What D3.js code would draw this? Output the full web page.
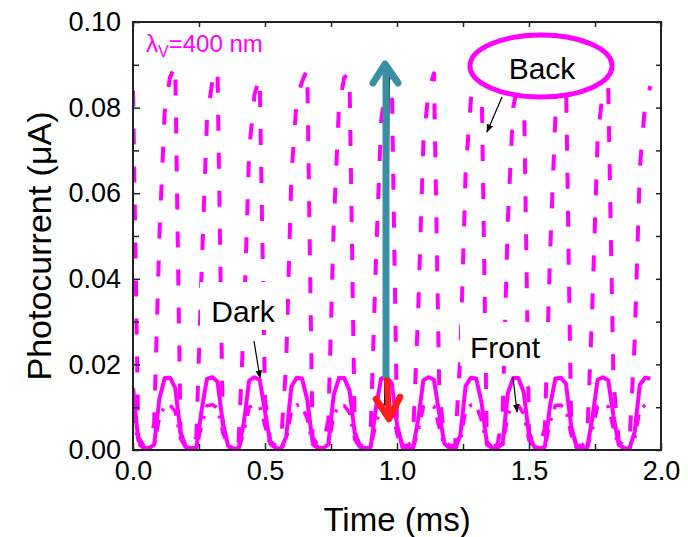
<!DOCTYPE html>
<html><head><meta charset="utf-8">
<script src="https://cdn.jsdelivr.net/npm/d3@7"></script>
<style>
html,body{margin:0;padding:0;background:#fff;}
svg text{font-family:"Liberation Sans",Arial,sans-serif;}
</style></head>
<body>
<svg id="chart" width="688" height="537"></svg>
<script>
// Time samples (ms)
const time = [0.00,0.02,0.04,0.06,0.08,0.10,0.12,0.14,0.16,0.18,0.20,0.22,0.24,0.26,0.28,0.30,0.32,0.34,0.36,0.38,
0.40,0.42,0.44,0.46,0.48,0.50,0.52,0.54,0.56,0.58,0.60,0.62,0.64,0.66,0.68,0.70,0.72,0.74,0.76,0.78,
0.80,0.82,0.84,0.86,0.88,0.90,0.92,0.94,0.96,0.98,1.00,1.02,1.04,1.06,1.08,1.10,1.12,1.14,1.16,1.18,
1.20,1.22,1.24,1.26,1.28,1.30,1.32,1.34,1.36,1.38,1.40,1.42,1.44,1.46,1.48,1.50,1.52,1.54,1.56,1.58,
1.60,1.62,1.64,1.66,1.68,1.70,1.72,1.74,1.76,1.78,1.80,1.82,1.84,1.86,1.88,1.90,1.92,1.94,1.96];

// Photocurrent (uA)
const backSeries = [0.084,0.003,0.001,0.001,0.006,0.050,0.079,0.087,0.090,0.004,0.001,0.001,0.003,0.042,0.077,0.086,0.089,0.006,0.001,0.001,
0.002,0.030,0.070,0.083,0.087,0.012,0.002,0.001,0.001,0.020,0.064,0.082,0.086,0.089,0.003,0.001,0.001,0.007,0.052,0.080,
0.087,0.088,0.004,0.001,0.001,0.004,0.044,0.077,0.086,0.088,0.006,0.001,0.001,0.002,0.032,0.072,0.084,0.088,0.014,0.002,
0.001,0.001,0.022,0.065,0.082,0.087,0.088,0.003,0.001,0.001,0.008,0.054,0.080,0.086,0.087,0.004,0.001,0.001,0.005,0.046,
0.078,0.085,0.087,0.005,0.001,0.001,0.002,0.034,0.073,0.084,0.085,0.016,0.002,0.001,0.001,0.025,0.066,0.081,0.085];

const darkSeries = [0.0145,0.0023,0.0006,0.0004,0.0012,0.0120,0.0168,0.0169,0.0145,0.0042,0.0007,0.0004,0.0005,0.0093,0.0166,0.0170,0.0160,0.0065,0.0010,0.0004,
0.0003,0.0065,0.0162,0.0170,0.0164,0.0090,0.0015,0.0005,0.0003,0.0030,0.0148,0.0169,0.0167,0.0118,0.0020,0.0006,0.0004,0.0013,0.0128,0.0168,
0.0168,0.0140,0.0040,0.0007,0.0004,0.0006,0.0098,0.0167,0.0170,0.0157,0.0060,0.0009,0.0004,0.0003,0.0070,0.0163,0.0170,0.0164,0.0085,0.0014,
0.0005,0.0003,0.0035,0.0150,0.0169,0.0167,0.0112,0.0019,0.0006,0.0004,0.0015,0.0133,0.0168,0.0168,0.0135,0.0035,0.0007,0.0004,0.0007,0.0105,
0.0167,0.0169,0.0155,0.0055,0.0008,0.0004,0.0004,0.0075,0.0164,0.0170,0.0163,0.0080,0.0012,0.0005,0.0003,0.0042,0.0153,0.0169,0.0167];

const frontSeries = [0.0090,0.0015,0.0004,0.0003,0.0008,0.0075,0.0104,0.0105,0.0090,0.0027,0.0005,0.0003,0.0004,0.0058,0.0103,0.0106,0.0099,0.0041,0.0007,0.0003,
0.0002,0.0041,0.0100,0.0105,0.0102,0.0056,0.0010,0.0004,0.0002,0.0019,0.0092,0.0105,0.0104,0.0073,0.0013,0.0004,0.0003,0.0008,0.0080,0.0104,
0.0104,0.0087,0.0025,0.0005,0.0003,0.0004,0.0061,0.0104,0.0106,0.0097,0.0037,0.0006,0.0003,0.0002,0.0044,0.0101,0.0105,0.0102,0.0053,0.0009,
0.0004,0.0002,0.0022,0.0093,0.0105,0.0104,0.0070,0.0012,0.0004,0.0003,0.0009,0.0083,0.0104,0.0104,0.0084,0.0022,0.0005,0.0003,0.0005,0.0065,
0.0104,0.0105,0.0096,0.0034,0.0005,0.0003,0.0003,0.0047,0.0102,0.0105,0.0101,0.0050,0.0008,0.0004,0.0002,0.0026,0.0095,0.0105,0.0104];

const xMajorTicks = [0, 0.5, 1.0, 1.5, 2.0];
const xMinorTicks = [0.25, 0.75, 1.25, 1.75];
const yMajorTicks = [0, 0.02, 0.04, 0.06, 0.08, 0.10];
const yMinorTicks = [0.01, 0.03, 0.05, 0.07, 0.09];
const xLabel = "Time (ms)";
const yLabel = "Photocurrent (\u03bcA)";

const svg = d3.select("#chart");
const L = 133, R = 661, T = 22, B = 450;
const x = d3.scaleLinear().domain([0, 2]).range([L, R]);
const y = d3.scaleLinear().domain([0, 0.1]).range([B, T]);
const MAG = "#ff00ff";

const clipId = "plotclip";
svg.append("clipPath").attr("id", clipId).append("rect")
  .attr("x", L).attr("y", T - 2).attr("width", R - L).attr("height", B - T + 2);

const plot = svg.append("g").attr("clip-path", `url(#${clipId})`);
function drawLine(vals, style) {
  const data = time.map((t, i) => [t, vals[i]]);
  const line = d3.line().x(d => x(d[0])).y(d => y(d[1]));
  const p = plot.append("path").datum(data).attr("d", line)
    .attr("fill", "none").attr("stroke", MAG)
    .attr("stroke-width", style.w).attr("stroke-linejoin", "round");
  if (style.dash) p.attr("stroke-dasharray", style.dash);
  return p;
}
drawLine(backSeries, {w: 4, dash: "16,22"});
drawLine(frontSeries, {w: 3.5, dash: "12,9,3,9"});
drawLine(darkSeries, {w: 4});

// Axes
const axisG = svg.append("g");
function styleAxis(g) {
  g.select(".domain").remove();
  g.selectAll(".tick line").attr("stroke", "#222").attr("stroke-width", 1.5);
  g.selectAll(".tick text").attr("fill", "#000").attr("font-family", "Liberation Sans, Arial, sans-serif");
}
axisG.append("g").attr("transform", `translate(0,${B})`)
  .call(d3.axisBottom(x).tickValues(xMajorTicks).tickSize(-7).tickSizeOuter(0).tickPadding(11).tickFormat(d3.format(".1f")))
  .call(styleAxis);
axisG.append("g").attr("transform", `translate(0,${B})`)
  .call(d3.axisBottom(x).tickValues(xMinorTicks).tickSize(-6).tickSizeOuter(0).tickFormat(""))
  .call(styleAxis);
axisG.append("g").attr("transform", `translate(0,${T})`)
  .call(d3.axisTop(x).tickValues(xMajorTicks.concat(xMinorTicks)).tickSize(-5).tickSizeOuter(0).tickFormat(""))
  .call(styleAxis);
axisG.append("g").attr("transform", `translate(${L},0)`)
  .call(d3.axisLeft(y).tickValues(yMajorTicks).tickSize(-7).tickSizeOuter(0).tickPadding(12).tickFormat(d3.format(".2f")))
  .call(styleAxis);
axisG.append("g").attr("transform", `translate(${L},0)`)
  .call(d3.axisLeft(y).tickValues(yMinorTicks).tickSize(-6).tickSizeOuter(0).tickFormat(""))
  .call(styleAxis);
axisG.append("g").attr("transform", `translate(${R},0)`)
  .call(d3.axisRight(y).tickValues(yMajorTicks.concat(yMinorTicks)).tickSize(-5).tickSizeOuter(0).tickFormat(""))
  .call(styleAxis);
axisG.selectAll(".tick text").attr("font-size", 27);

svg.append("rect").attr("x", L).attr("y", T).attr("width", R - L).attr("height", B - T)
  .attr("fill", "none").attr("stroke", "#222").attr("stroke-width", 2);

// Axis titles
svg.append("text").attr("x", (L + R) / 2).attr("y", 531).attr("text-anchor", "middle")
  .attr("font-size", 33).text(xLabel);
svg.append("text").attr("transform", `translate(51,${(105 + 387) / 2}) rotate(-90)`)
  .attr("text-anchor", "middle").attr("font-size", 34).text(yLabel);

// Wavelength label
const lam = svg.append("text").attr("x", 146).attr("y", 52).attr("fill", MAG).attr("font-size", 24);
lam.append("tspan").text("\u03bb");
lam.append("tspan").attr("font-size", 16).attr("dy", 5).text("V");
lam.append("tspan").attr("dy", -5).text("=400 nm");

// Annotation helper
const defs = svg.append("defs");
defs.append("marker").attr("id", "blkArrow").attr("viewBox", "0 0 10 10").attr("refX", 9).attr("refY", 5)
  .attr("markerWidth", 7).attr("markerHeight", 7).attr("orient", "auto")
  .append("path").attr("d", "M0,1 L10,5 L0,9 z").attr("fill", "#000");

function label(txt, cx, baseline, bw, bh) {
  svg.append("rect").attr("x", cx - bw / 2).attr("y", baseline - bh + 8).attr("width", bw).attr("height", bh).attr("fill", "#fff");
  svg.append("text").attr("x", cx).attr("y", baseline).attr("text-anchor", "middle").attr("font-size", 30).text(txt);
}
// Dark
label("Dark", 243, 322, 86, 48);
svg.append("line").attr("x1", 254).attr("y1", 341).attr("x2", 260).attr("y2", 378)
  .attr("stroke", "#000").attr("stroke-width", 1.2).attr("marker-end", "url(#blkArrow)");
// Front
label("Front", 505, 358, 90, 44);
svg.append("line").attr("x1", 513).attr("y1", 377).attr("x2", 517).attr("y2", 412)
  .attr("stroke", "#000").attr("stroke-width", 1.2).attr("marker-end", "url(#blkArrow)");
// Back with ellipse
svg.append("ellipse").attr("cx", 541).attr("cy", 66).attr("rx", 71).attr("ry", 31)
  .attr("fill", "#fff").attr("stroke", MAG).attr("stroke-width", 5);
svg.append("text").attr("x", 542).attr("y", 79).attr("text-anchor", "middle").attr("font-size", 30).text("Back");
svg.append("line").attr("x1", 502).attr("y1", 97).attr("x2", 487).attr("y2", 132)
  .attr("stroke", "#000").attr("stroke-width", 1.2).attr("marker-end", "url(#blkArrow)");

// Thin black line along teal arrow
svg.append("line").attr("x1", 389).attr("y1", 76).attr("x2", 385).attr("y2", 405)
  .attr("stroke", "#000").attr("stroke-width", 2);
// Teal up arrow
const TEAL = "#3a8fa3";
svg.append("line").attr("x1", 386).attr("y1", 378).attr("x2", 386).attr("y2", 66)
  .attr("stroke", TEAL).attr("stroke-width", 7);
svg.append("path").attr("d", "M373,83 L385,64 L398,83").attr("fill", "none")
  .attr("stroke", TEAL).attr("stroke-width", 7).attr("stroke-linecap", "round").attr("stroke-linejoin", "round");
// Red down arrow
const RED = "#ff1c1c";
svg.append("line").attr("x1", 387).attr("y1", 378).attr("x2", 389).attr("y2", 418)
  .attr("stroke", RED).attr("stroke-width", 6);
svg.append("path").attr("d", "M376,399 L389,419 L400,397").attr("fill", "none")
  .attr("stroke", RED).attr("stroke-width", 6.5).attr("stroke-linecap", "round").attr("stroke-linejoin", "round");
</script>
</body></html>
